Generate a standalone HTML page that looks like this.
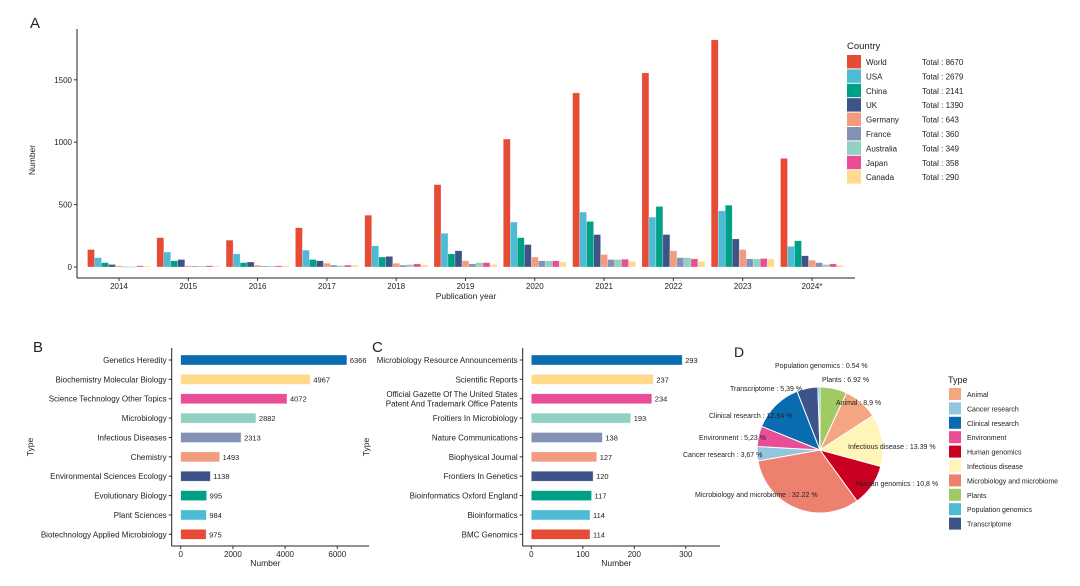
<!DOCTYPE html>
<html><head><meta charset="utf-8">
<style>
body{margin:0;background:#fff;}
svg{display:block;font-family:"Liberation Sans",sans-serif;}
text{fill:#222;}
</style></head>
<body>
<svg id="fig" width="1080" height="586" viewBox="0 0 1080 586" xmlns="http://www.w3.org/2000/svg">
<g id="pa"></g>
<g id="pb"></g>
<g id="pc"></g>
<g id="pd"></g>
</svg>
<script>
// ---- Panel A data ----
const years = ["2014","2015","2016","2017","2018","2019","2020","2021","2022","2023","2024*"];
const countries = ["World","USA","China","UK","Germany","France","Australia","Japan","Canada"];
const totals = [8670,2679,2141,1390,643,360,349,358,290];
const worldVals = [140,235,215,315,415,660,1025,1395,1555,1820,870];
const usaVals = [75,120,105,135,170,270,360,440,400,450,165];
const chinaVals = [35,50,35,60,80,105,235,365,485,495,210];
const ukVals = [20,60,40,50,85,130,180,260,260,225,90];
const germanyVals = [10,10,15,30,30,50,80,100,130,140,55];
const franceVals = [3,8,8,15,15,25,50,60,75,65,35];
const australiaVals = [3,8,8,12,20,35,50,60,75,65,20];
const japanVals = [10,10,10,15,25,35,50,62,65,68,25];
const canadaVals = [8,8,12,15,18,20,40,45,45,65,15];
const yTicksA = [0,500,1000,1500];
// ---- Panel B data ----
const catsB = ["Genetics Heredity","Biochemistry Molecular Biology","Science Technology Other Topics","Microbiology","Infectious Diseases","Chemistry","Environmental Sciences Ecology","Evolutionary Biology","Plant Sciences","Biotechnology Applied Microbiology"];
const valsB = [6366,4967,4072,2882,2313,1493,1138,995,984,975];
const xTicksB = [0,2000,4000,6000];
// ---- Panel C data ----
const catsC = ["Microbiology Resource Announcements","Scientific Reports","Official Gazette Of The United States|Patent And Trademark Office Patents","Froitiers In Microbiology","Nature Communications","Biophysical Journal","Frontiers In Genetics","Bioinformatics Oxford England","Bioinformatics","BMC Genomics"];
const valsC = [293,237,234,193,138,127,120,117,114,114];
const xTicksC = [0,100,200,300];
// ---- Panel D data ----
const pieCats = ["Plants","Animal","Infectious disease","Human genomics","Microbiology and microbiome","Cancer research","Environment","Clinical research","Transcriptome","Population genomics"];
const pieVals = [6.92,8.9,13.39,10.8,32.22,3.67,5.23,12.94,5.39,0.54];
const legendD = ["Animal","Cancer research","Clinical research","Environment","Human genomics","Infectious disease","Microbiology and microbiome","Plants","Population genomics","Transcriptome"];

const colC = ["#E64B35","#4DBBD5","#00A087","#3C5488","#F39B7F","#8491B4","#91D1C2","#E94D96","#FFD98C"];
const barColsB = ["#0A6CB0","#FFD98C","#E94D96","#91D1C2","#8491B4","#F39B7F","#3C5488","#00A087","#4DBBD5","#E64B35"];
const pieColMap = {"Animal":"#F4A582","Cancer research":"#92C5DE","Clinical research":"#0A6CB0","Environment":"#E94D96","Human genomics":"#CA0020","Infectious disease":"#FFF5B8","Microbiology and microbiome":"#EE8070","Plants":"#A1C964","Population genomics":"#4DBBD5","Transcriptome":"#3C5488"};

const NS="http://www.w3.org/2000/svg";
function mk(parent,tag,attrs,txt){const e=document.createElementNS(NS,tag);for(const k in attrs)e.setAttribute(k,attrs[k]);if(txt!==undefined)e.textContent=txt;parent.appendChild(e);return e;}

// ===== Panel A =====
(function(){
const g=document.getElementById('pa');
const x0=77,yZero=267,pxPer=62.4/500,xFirst=119,step=69.3,bw=7;
const yA=v=>yZero-v*pxPer;
const series=[worldVals,usaVals,chinaVals,ukVals,germanyVals,franceVals,australiaVals,japanVals,canadaVals];
let t=mk(g,'text',{x:30,y:28,'font-size':15},'A');


let l=mk(g,'line',{x1:x0,y1:29,x2:x0,y2:278,stroke:'#222','stroke-width':1});


l=mk(g,'line',{x1:x0,y1:278,x2:855,y2:278,stroke:'#222','stroke-width':1});


yTicksA.forEach(v=>{
  const tk=mk(g,'line',{x1:x0-3,y1:yA(v),x2:x0,y2:yA(v),stroke:'#333'});
  
  
  const tl=mk(g,'text',{x:x0-5,y:yA(v)+3,'font-size':8,'text-anchor':'end',fill:'#333'},v);
  
  
});
years.forEach((yr,i)=>{
  const cx=xFirst+i*step;
  const tk=mk(g,'line',{x1:cx,y1:278,x2:cx,y2:281,stroke:'#333'});
  
  
  const tl=mk(g,'text',{x:cx,y:289,'font-size':8,'text-anchor':'middle',fill:'#333'},yr);
  
  
  series.forEach((s,j)=>{
    const v=s[i];
    const bx=cx-4.5*bw+j*bw;
    const r=mk(g,'rect',{x:bx,y:yA(v),width:bw,height:Math.max(0.8,v*pxPer),fill:colC[j],stroke:'rgba(255,255,255,0.5)','stroke-width':0.5});
    
    
  });
});
t=mk(g,'text',{x:466,y:299,'font-size':8.5,'text-anchor':'middle'},'Publication year');


t=mk(g,'text',{x:35,y:160,'font-size':8.5,'text-anchor':'middle',transform:'rotate(-90 35 160)'},'Number');


t=mk(g,'text',{x:847,y:49,'font-size':9.5},'Country');


countries.forEach((c,j)=>{
  const y=55+j*14.4;
  const r=mk(g,'rect',{x:847,y:y,width:14,height:13.4,fill:colC[j]});
  
  
  const a=mk(g,'text',{x:866,y:y+10,'font-size':8},c);
  
  
  const b=mk(g,'text',{x:922,y:y+10,'font-size':8},'Total : '+totals[j]);
  
  
});
})();

// ===== Horizontal bar helper =====
function hbar(gid,letter,lx,cats,vals,ticks,axX,zeroX,pxPerUnit,axEnd,typeX,cols,prefix){
const g=document.getElementById(gid);
const y0=360,sp=19.37,bh=10,axY=546;
const xS=v=>zeroX+v*pxPerUnit;
let t=mk(g,'text',{x:lx,y:352,'font-size':15},letter);


let l=mk(g,'line',{x1:axX,y1:348,x2:axX,y2:axY,stroke:'#222'});


l=mk(g,'line',{x1:axX,y1:axY,x2:axEnd,y2:axY,stroke:'#222'});


ticks.forEach(v=>{
  const tk=mk(g,'line',{x1:xS(v),y1:axY,x2:xS(v),y2:axY+3,stroke:'#333'});
  
  
  const tl=mk(g,'text',{x:xS(v),y:axY+11,'font-size':8,'text-anchor':'middle',fill:'#333'},v);
  
  
});
cats.forEach((c,i)=>{
  const cy=y0+i*sp;
  const tk=mk(g,'line',{x1:axX-3,y1:cy,x2:axX,y2:cy,stroke:'#333'});
  
  
  const parts=c.split('|');
  parts.forEach((p,k)=>{
    const tl=mk(g,'text',{x:axX-5,y:cy+3+(k-(parts.length-1)/2)*9.5,'font-size':8,'text-anchor':'end',fill:'#333'},p);
    
    
  });
  const r=mk(g,'rect',{x:zeroX,y:cy-bh/2,width:vals[i]*pxPerUnit,height:bh,fill:cols[i],stroke:'rgba(255,255,255,0.6)','stroke-width':0.6});
  
  
  const vl=mk(g,'text',{x:zeroX+vals[i]*pxPerUnit+3,y:cy+3,'font-size':7.5,fill:'#222'},vals[i]);
  
  
});
t=mk(g,'text',{x:(axX+axEnd)/2-5,y:566,'font-size':8.5,'text-anchor':'middle'},'Number');


t=mk(g,'text',{x:typeX,y:447,'font-size':8.5,'text-anchor':'middle',transform:'rotate(-90 '+typeX+' 447)'},'Type');


}
hbar('pb','B',33,catsB,valsB,xTicksB,171.7,180.7,26.1/1000,369,33,barColsB,'b');
hbar('pc','C',372,catsC,valsC,xTicksC,522.7,531.3,51.5/100,720,369,barColsB,'c');

// ===== Panel D =====
(function(){
const g=document.getElementById('pd');
const cx=820,cy=450,R=63;
let t=mk(g,'text',{x:734,y:357,'font-size':14},'D');


const total=pieVals.reduce((a,b)=>a+b,0);
let ang=0;
const labelPos={"Plants":[822,382],"Animal":[836,405],"Infectious disease":[848,449],"Human genomics":[856,486],"Microbiology and microbiome":[695,497],"Cancer research":[683,457],"Environment":[699,440],"Clinical research":[709,418],"Transcriptome":[730,391],"Population genomics":[775,368]};
const labels=[];
pieVals.forEach((v,i)=>{
  const a0=ang, a1=ang+v/total*2*Math.PI; ang=a1;
  const p0=[cx+R*Math.sin(a0),cy-R*Math.cos(a0)], p1=[cx+R*Math.sin(a1),cy-R*Math.cos(a1)];
  const large=(a1-a0)>Math.PI?1:0;
  const p=mk(g,'path',{d:`M${cx},${cy} L${p0[0]},${p0[1]} A${R},${R} 0 ${large} 1 ${p1[0]},${p1[1]} Z`,fill:pieColMap[pieCats[i]],stroke:'#fff','stroke-width':1});
  
  
  labels.push([pieCats[i],v]);
});
labels.forEach(([c,v])=>{
  const lp=labelPos[c];
  const tl=mk(g,'text',{x:lp[0],y:lp[1],'font-size':7,fill:'#222'},c+' : '+String(v).replace('.',c==='Population genomics'?'.':(c==='Microbiology and microbiome'||c==='Clinical research'||c==='Infectious disease'||c==='Plants'?'.':','))+' %');
  
  
});
t=mk(g,'text',{x:948,y:383,'font-size':9},'Type');


legendD.forEach((c,i)=>{
  const y=388+i*14.4;
  const r=mk(g,'rect',{x:949,y:y,width:12,height:12,fill:pieColMap[c]});
  
  
  const a=mk(g,'text',{x:967,y:y+9,'font-size':7},c);
  
  
});
})();
</script>
</body></html>
